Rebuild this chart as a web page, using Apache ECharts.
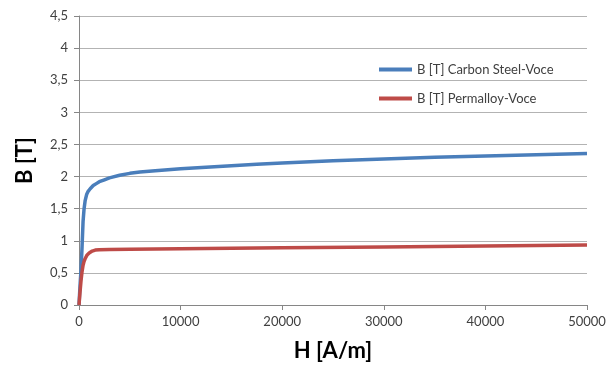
<!DOCTYPE html>
<html><head><meta charset="utf-8">
<script src="https://cdn.jsdelivr.net/npm/echarts@6/dist/echarts.min.js"></script>
<style>html,body{margin:0;padding:0;background:#fff}#c{width:608px;height:365px}</style>
</head><body><div id="c"></div>
<script>
const steelH = [0, 50, 100, 200, 300, 400, 500, 600, 750, 900, 1100, 1400, 1700, 2000, 2500, 3000, 4000, 5000, 6000, 7500, 10000, 12500, 15000, 17500, 20000, 25000, 30000, 35000, 40000, 45000, 50000];
const steelB = [0, 0.15, 0.3, 0.55, 0.9, 1.3, 1.5, 1.62, 1.72, 1.77, 1.81, 1.86, 1.89, 1.92, 1.95, 1.98, 2.02, 2.05, 2.07, 2.09, 2.12, 2.145, 2.17, 2.19, 2.21, 2.245, 2.275, 2.30, 2.32, 2.34, 2.36];
const permH = [0, 50, 100, 200, 300, 400, 500, 600, 800, 1000, 1300, 1600, 2000, 3000, 5000, 10000, 20000, 30000, 40000, 50000];
const permB = [0, 0.1, 0.2, 0.38, 0.52, 0.62, 0.68, 0.72, 0.78, 0.81, 0.84, 0.855, 0.862, 0.866, 0.87, 0.875, 0.89, 0.905, 0.92, 0.935];
const seriesNames = ['B [T] Carbon Steel-Voce', 'B [T] Permalloy-Voce'];
const xTitle = 'H [A/m]';
const yTitle = 'B [T]';

const FONT = 'Lato, "Open Sans", sans-serif';
const chart = echarts.init(document.getElementById('c'), null, {renderer: 'canvas'});
const zip = (a, b) => a.map((v, i) => [v, b[i]]);
chart.setOption({
  animation: false,
  textStyle: {fontFamily: FONT},
  grid: {left: 79, right: 21, top: 16, bottom: 60, containLabel: false, outerBoundsMode: 'none'},
  legend: {
    orient: 'vertical', left: 374, top: 58, itemGap: 16,
    itemWidth: 33, itemHeight: 4, icon: 'rect', itemStyle: {borderWidth: 0},
    textStyle: {fontFamily: FONT, fontSize: 13, color: '#404040'},
    data: seriesNames
  },
  xAxis: {
    type: 'value', min: 0, max: 50000, interval: 10000,
    name: xTitle, nameLocation: 'middle', nameGap: 35,
    nameTextStyle: {fontFamily: FONT, fontSize: 22, fontWeight: 'bold', color: '#000'},
    axisLine: {show: true, lineStyle: {color: '#868686', width: 1}},
    axisTick: {show: true, inside: false, length: 5, lineStyle: {color: '#868686'}},
    axisLabel: {fontFamily: FONT, fontSize: 13, color: '#404040', margin: 10,
      formatter: v => String(v)},
    splitLine: {show: false}
  },
  yAxis: {
    type: 'value', min: 0, max: 4.5, interval: 0.5,
    name: yTitle, nameLocation: 'middle', nameGap: 43, nameRotate: 90,
    nameTextStyle: {fontFamily: FONT, fontSize: 22, fontWeight: 'bold', color: '#000'},
    axisLine: {show: true, lineStyle: {color: '#868686', width: 1}},
    axisTick: {show: true, inside: false, length: 5, lineStyle: {color: '#868686'}},
    axisLabel: {fontFamily: FONT, fontSize: 13, color: '#404040', margin: 11,
      formatter: v => String(v).replace('.', ',')},
    splitLine: {show: true, lineStyle: {color: '#b3b3b3', width: 1}}
  },
  series: [
    {name: seriesNames[0], type: 'line', data: zip(steelH, steelB), showSymbol: false,
     smooth: false, color: '#4a7ebb', lineStyle: {width: 3.5, color: '#4a7ebb', join: 'round'}},
    {name: seriesNames[1], type: 'line', data: zip(permH, permB), showSymbol: false,
     smooth: false, color: '#be4b48', lineStyle: {width: 3.5, color: '#be4b48', join: 'round'}}
  ]
});
</script></body></html>
